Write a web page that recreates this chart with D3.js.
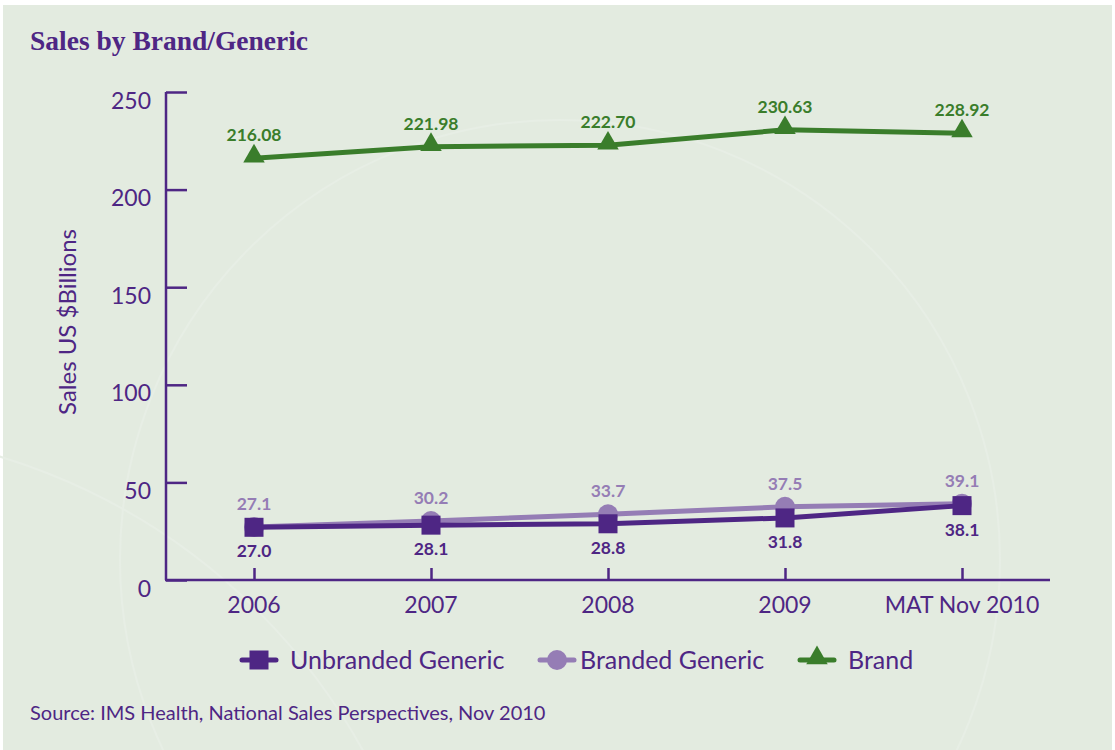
<!DOCTYPE html>
<html>
<head>
<meta charset="utf-8">
<script src="https://cdn.jsdelivr.net/npm/d3@7"></script>
<style>
  body { margin: 0; background: #fff; }
  text { font-family: "Lato", "Open Sans", sans-serif; }
</style>
</head>
<body>
<div id="chart-area"></div>
<script>
// data
const years = ["2006", "2007", "2008", "2009", "MAT Nov 2010"]
const unbranded = [27.0, 28.1, 28.8, 31.8, 38.1]
const branded = [27.1, 30.2, 33.7, 37.5, 39.1]
const brand = [216.08, 221.98, 222.70, 230.63, 228.92]
const yTicks = [0, 50, 100, 150, 200, 250]

const PURPLE = "#4e2684"
const LILAC = "#957db5"
const GREEN = "#3a7d2b"

const W = 1115, H = 750
const MARGIN = { LEFT: 166, RIGHT: 65, TOP: 92, BOTTOM: 170 }

const svg = d3.select("#chart-area").append("svg")
  .attr("width", W)
  .attr("height", H)

// panel background
svg.append("rect")
  .attr("x", 3).attr("y", 5)
  .attr("width", W - 6).attr("height", H - 5)
  .attr("fill", "#e3ebe0")

// faint decorative arcs
svg.append("circle")
  .attr("cx", 560).attr("cy", 560).attr("r", 440)
  .attr("fill", "none").attr("stroke", "#e7eee5").attr("stroke-width", 2)
svg.append("circle")
  .attr("cx", -180).attr("cy", 1050).attr("r", 620)
  .attr("fill", "none").attr("stroke", "#e7eee5").attr("stroke-width", 2)

// title
svg.append("text")
  .attr("x", 30).attr("y", 50)
  .style("font-family", "'Liberation Serif', 'DejaVu Serif', serif")
  .attr("font-size", "27.5px")
  .attr("font-weight", "bold")
  .attr("fill", PURPLE)
  .text("Sales by Brand/Generic")

// scales
const x = d3.scalePoint()
  .domain(years)
  .range([254, 962])
const y = d3.scaleLinear()
  .domain([0, 250])
  .range([580, 92])

// y axis
const yAxis = svg.append("g")
  .attr("transform", `translate(${MARGIN.LEFT}, 0)`)
  .call(d3.axisRight(y).tickValues(yTicks).tickSize(21).tickFormat(d3.format("d")))
yAxis.select(".domain").remove()
yAxis.append("line")
  .attr("x1", 0).attr("x2", 0)
  .attr("y1", y(0)).attr("y2", y(250))
  .attr("stroke", PURPLE).attr("stroke-width", 2.5)
yAxis.selectAll(".tick line").attr("stroke", PURPLE).attr("stroke-width", 2.5)
yAxis.selectAll(".tick text")
  .attr("x", -15)
  .attr("y", 8)
  .attr("text-anchor", "end")
  .attr("fill", PURPLE)
  .attr("font-size", "23px")
  .attr("dy", "0.35em")

// x axis
const xAxis = svg.append("g")
  .attr("transform", `translate(0, ${y(0)})`)
  .call(d3.axisTop(x).tickSize(12).tickFormat(""))
xAxis.select(".domain").remove()
xAxis.append("line")
  .attr("x1", MARGIN.LEFT - 1).attr("x2", 1050)
  .attr("y1", 0).attr("y2", 0)
  .attr("stroke", PURPLE).attr("stroke-width", 2.5)
xAxis.selectAll(".tick line").attr("stroke", PURPLE).attr("stroke-width", 2.5)
xAxis.selectAll(".xlabel")
  .data(years)
  .enter().append("text")
  .attr("class", "xlabel")
  .attr("x", d => x(d))
  .attr("y", 33)
  .attr("text-anchor", "middle")
  .attr("fill", PURPLE)
  .attr("font-size", "23px")
  .text(d => d)

// y axis label
svg.append("text")
  .attr("transform", "translate(76, 322) rotate(-90)")
  .attr("text-anchor", "middle")
  .attr("fill", PURPLE)
  .attr("font-size", "24px")
  .text("Sales US $Billions")

const line = d3.line()
  .x((d, i) => x(years[i]))
  .y(d => y(d))

const series = [
  { name: "Branded Generic", values: branded, color: LILAC, marker: "circle", label: "above" },
  { name: "Unbranded Generic", values: unbranded, color: PURPLE, marker: "square", label: "below" },
  { name: "Brand", values: brand, color: GREEN, marker: "triangle", label: "above" }
]

const triangle = d3.symbol().type(d3.symbolTriangle).size(200)

function drawMarker(sel, s, cx, cy) {
  if (s.marker === "circle") {
    sel.append("circle").attr("cx", cx).attr("cy", cy).attr("r", 10).attr("fill", s.color)
  } else if (s.marker === "square") {
    sel.append("rect").attr("x", cx - 9.5).attr("y", cy - 9.5)
      .attr("width", 19).attr("height", 19).attr("fill", s.color)
  } else {
    sel.append("path").attr("d", triangle)
      .attr("transform", `translate(${cx}, ${cy - 2})`).attr("fill", s.color)
  }
}

series.forEach(s => {
  const g = svg.append("g")
  g.append("path")
    .attr("d", line(s.values))
    .attr("fill", "none")
    .attr("stroke", s.color)
    .attr("stroke-width", 5)
  s.values.forEach((v, i) => drawMarker(g, s, x(years[i]), y(v)))
  const fmt = s.marker === "triangle" ? d3.format(".2f") : d3.format(".1f")
  g.selectAll(".lbl")
    .data(s.values)
    .enter().append("text")
    .attr("x", (d, i) => x(years[i]))
    .attr("y", d => s.label === "above" ? y(d) - 17 : y(d) + 30)
    .attr("text-anchor", "middle")
    .attr("fill", s.color)
    .attr("font-size", "17.5px")
    .attr("font-weight", "bold")
    .text(d => fmt(d))
})

// legend
const legendItems = [
  { s: series[1], x: 242, tx: 290 },
  { s: series[0], x: 540, tx: 580 },
  { s: series[2], x: 800, tx: 848 }
]
legendItems.forEach(li => {
  const g = svg.append("g")
  g.append("line")
    .attr("x1", li.x).attr("x2", li.x + 34)
    .attr("y1", 660).attr("y2", 660)
    .attr("stroke", li.s.color).attr("stroke-width", 5)
    .attr("stroke-linecap", "round")
  drawMarker(g, li.s, li.x + 17, 660)
  g.append("text")
    .attr("x", li.tx).attr("y", 669)
    .attr("fill", PURPLE)
    .attr("font-size", "25px")
    .text(li.s.name)
})

// source
svg.append("text")
  .attr("x", 30).attr("y", 720)
  .attr("fill", PURPLE)
  .attr("font-size", "20px")
  .text("Source: IMS Health, National Sales Perspectives, Nov 2010")
</script>
</body>
</html>
